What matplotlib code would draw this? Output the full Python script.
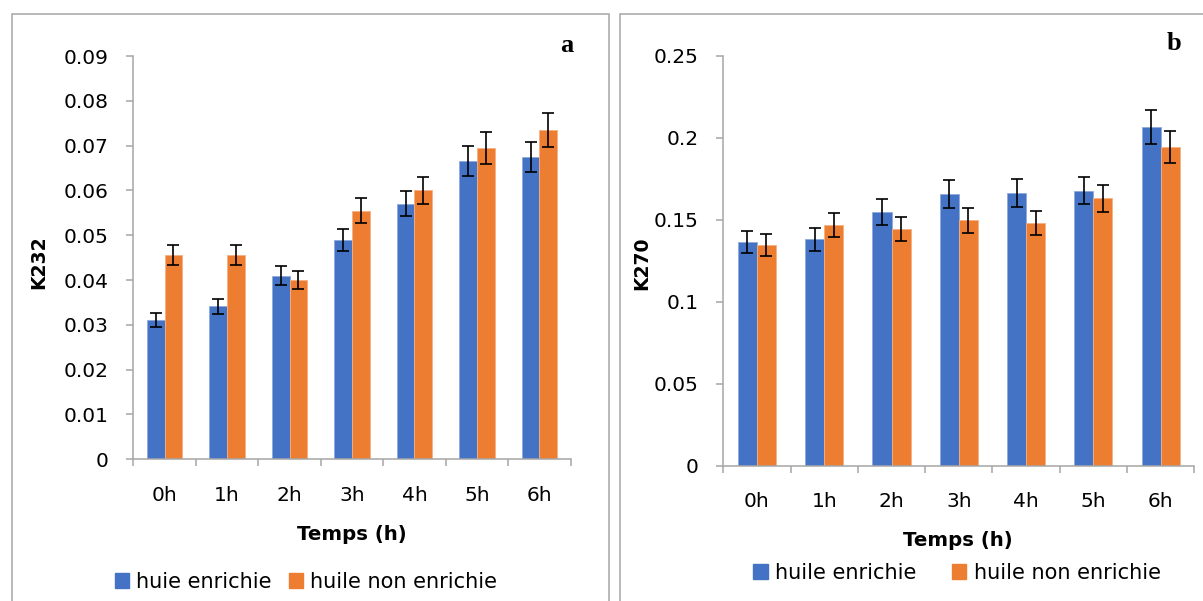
import matplotlib
matplotlib.use("Agg")
import matplotlib.pyplot as plt
import numpy as np
from matplotlib.patches import Rectangle
from matplotlib.ticker import FuncFormatter, FixedLocator

# data
hours = ['0h', '1h', '2h', '3h', '4h', '5h', '6h']

k232_enr = [0.0311, 0.0341, 0.0410, 0.0490, 0.0570, 0.0666, 0.0675]
k232_enr_err = [0.0016, 0.0017, 0.0021, 0.0025, 0.0028, 0.0033, 0.0034]
k232_non = [0.0456, 0.0456, 0.0400, 0.0555, 0.0600, 0.0695, 0.0735]
k232_non_err = [0.0023, 0.0023, 0.0020, 0.0028, 0.0030, 0.0035, 0.0037]

k270_enr = [0.1361, 0.1381, 0.1546, 0.1656, 0.1662, 0.1676, 0.2067]
k270_enr_err = [0.0068, 0.0070, 0.0078, 0.0083, 0.0083, 0.0083, 0.0104]
k270_non = [0.1344, 0.1467, 0.1444, 0.1495, 0.1479, 0.1631, 0.1941]
k270_non_err = [0.0067, 0.0073, 0.0072, 0.0075, 0.0075, 0.0082, 0.0097]

BLUE = '#4472C4'
ORANGE = '#ED7D31'
GRAY = '#A6A6A6'

W, H = 1203, 601
fig = plt.figure(figsize=(W / 100, H / 100), dpi=100)


def fx(x):
    return x / W


def fy(y):
    return 1 - y / H


# panel frames
for x0, x1 in [(12, 608.5), (620, 1260)]:
    fig.add_artist(Rectangle((fx(x0), fy(700)), fx(x1 - x0), (700 - 13.7) / H,
                             transform=fig.transFigure, fill=False,
                             edgecolor=GRAY, linewidth=1.1, clip_on=False))


def bar_panel(box, enr, enr_err, non, non_err, ymax, step):
    l, t, r, b = box
    ax = fig.add_axes([fx(l), fy(b), fx(r - l), (b - t) / H])
    x = np.arange(len(hours))
    bw = 0.283
    ax.bar(x - bw / 2, enr, bw, color=BLUE, edgecolor='#8FAADC', linewidth=0.6, zorder=2)
    ax.bar(x + bw / 2, non, bw, color=ORANGE, edgecolor='#F4B183', linewidth=0.6, zorder=2)
    ax.errorbar(x - bw / 2, enr, yerr=enr_err, fmt='none', ecolor='black',
                elinewidth=1.2, capsize=4.3, capthick=1.2, zorder=3)
    ax.errorbar(x + bw / 2, non, yerr=non_err, fmt='none', ecolor='black',
                elinewidth=1.2, capsize=4.3, capthick=1.2, zorder=3)

    ax.set_xlim(-0.5, len(hours) - 0.5)
    ax.set_ylim(0, ymax)
    ax.set_yticks(np.arange(0, ymax + step / 2, step))
    ax.yaxis.set_major_formatter(FuncFormatter(lambda v, p: '%g' % round(v, 4)))
    ax.set_xticks(x)
    ax.set_xticklabels(hours)
    ax.xaxis.set_minor_locator(FixedLocator(np.arange(-0.5, len(hours), 1.0)))

    for s in ['top', 'right']:
        ax.spines[s].set_visible(False)
    for s in ['left', 'bottom']:
        ax.spines[s].set_color(GRAY)
        ax.spines[s].set_linewidth(1.1)
    ax.tick_params(axis='y', length=5, width=1.1, color=GRAY, labelsize=14.5, pad=13)
    ax.tick_params(axis='x', which='major', length=0, labelsize=14.5, pad=19)
    ax.tick_params(axis='x', which='minor', length=5, width=1.1, color=GRAY)
    ax.set_facecolor('none')
    return ax


ax1 = bar_panel((133.3, 56, 570.7, 459.3), k232_enr, k232_enr_err,
                k232_non, k232_non_err, 0.09, 0.01)
ax2 = bar_panel((723.3, 55.6, 1194.3, 465.5), k270_enr, k270_enr_err,
                k270_non, k270_non_err, 0.25, 0.05)

# axis titles
fig.text(fx(39), fy(262), 'K232', rotation=90, fontsize=13.5, fontweight='bold',
         ha='center', va='center')
fig.text(fx(642), fy(263), 'K270', rotation=90, fontsize=13.5, fontweight='bold',
         ha='center', va='center')
fig.text(fx(352), fy(535), 'Temps (h)', fontsize=14.2, fontweight='bold',
         ha='center', va='center')
fig.text(fx(958), fy(541), 'Temps (h)', fontsize=14.2, fontweight='bold',
         ha='center', va='center')

# panel letters
fig.text(fx(567), fy(46), 'a', fontsize=19, fontweight='bold',
         family='Liberation Serif', ha='center', va='center')
fig.text(fx(1174), fy(44), 'b', fontsize=19, fontweight='bold',
         family='Liberation Serif', ha='center', va='center')

# legends
h1 = Rectangle((0, 0), 1, 1, color=BLUE)
h2 = Rectangle((0, 0), 1, 1, color=ORANGE)
fig.legend([h1, h2], ['huie enrichie', 'huile non enrichie'], loc='center',
           bbox_to_anchor=(fx(306), fy(582)), ncol=2, frameon=False, fontsize=15,
           handlelength=0.7, handleheight=0.7, handletextpad=0.35,
           columnspacing=0.8, borderpad=0, borderaxespad=0)
fig.legend([h1, h2], ['huile enrichie', 'huile non enrichie'], loc='center',
           bbox_to_anchor=(fx(957), fy(573)), ncol=2, frameon=False, fontsize=15,
           handlelength=0.7, handleheight=0.7, handletextpad=0.35,
           columnspacing=1.7, borderpad=0, borderaxespad=0)

fig.savefig('out.png', dpi=100)
